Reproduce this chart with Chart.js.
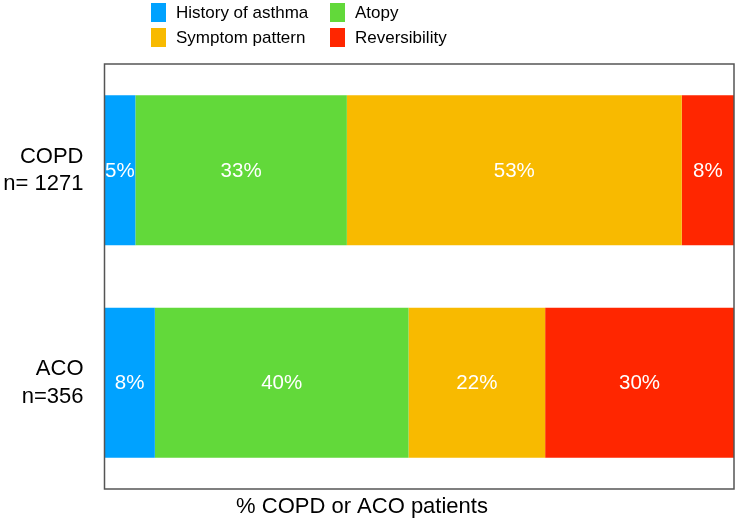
<!DOCTYPE html>
<html>
<head>
<meta charset="utf-8">
<script src="https://cdn.jsdelivr.net/npm/chart.js@4"></script>
<style>
  body { margin: 0; background: #fff; }
  #wrap { width: 735px; height: 524px; }
</style>
</head>
<body>
<div id="wrap"><canvas id="grafico"></canvas></div>
<script>
const categorias = [["COPD", "n= 1271"], ["ACO", "n=356"]];
const series = ["History of asthma", "Atopy", "Symptom pattern", "Reversibility"];
const cores = ["#00A2FF", "#62D93A", "#F8BA00", "#FF2600"];

// percent values
const historico = [4.9, 8.0];
const atopia = [33.6, 40.3];
const sintomas = [53.2, 21.7];
const reversibilidade = [8.3, 30.0];

// labels printed inside the bars
const rotHistorico = ["5%", "8%"];
const rotAtopia = ["33%", "40%"];
const rotSintomas = ["53%", "22%"];
const rotReversibilidade = ["8%", "30%"];

const valores = [historico, atopia, sintomas, reversibilidade];
const rotulos = [rotHistorico, rotAtopia, rotSintomas, rotReversibilidade];

const tituloX = "% COPD or ACO patients";

// legend in two columns, plus frame, value labels and axis title
const extras = {
  id: "extras",
  afterDatasetsDraw(chart) {
    const ctx = chart.ctx;
    const area = chart.chartArea;
    ctx.save();

    // frame
    ctx.strokeStyle = "#555";
    ctx.lineWidth = 1.5;
    ctx.strokeRect(area.left, area.top, area.right - area.left, area.bottom - area.top);

    // value labels
    ctx.fillStyle = "#fff";
    ctx.font = "20.5px 'Liberation Sans', Arial, sans-serif";
    ctx.textAlign = "center";
    ctx.textBaseline = "middle";
    chart.data.datasets.forEach((ds, i) => {
      chart.getDatasetMeta(i).data.forEach((bar, j) => {
        const x = (bar.x + bar.base) / 2;
        ctx.fillText(rotulos[i][j], x, bar.y + 1);
      });
    });

    // legend
    const posLegenda = [[151, 3], [330, 3], [151, 28], [330, 28]];
    ctx.font = "17px 'Liberation Sans', Arial, sans-serif";
    ctx.textAlign = "left";
    series.forEach((nome, k) => {
      const [lx, ly] = posLegenda[k];
      ctx.fillStyle = cores[k];
      ctx.fillRect(lx, ly, 15, 19);
      ctx.fillStyle = "#000";
      ctx.fillText(nome, lx + 25, ly + 10);
    });

    // x axis title
    ctx.font = "22px 'Liberation Sans', Arial, sans-serif";
    ctx.textAlign = "center";
    ctx.fillText(tituloX, 362, 507);

    ctx.restore();
  }
};

const graficoEl = document.getElementById("grafico");

const grafico = new Chart(graficoEl, {
  type: "bar",
  data: {
    labels: categorias,
    datasets: series.map((nome, i) => ({
      label: nome,
      data: valores[i],
      backgroundColor: cores[i],
      borderWidth: 0,
      barPercentage: 0.706,
      categoryPercentage: 1
    }))
  },
  options: {
    indexAxis: "y",
    responsive: true,
    maintainAspectRatio: false,
    animation: false,
    layout: { padding: { top: 64, right: 1, bottom: 35, left: 0 } },
    plugins: {
      legend: { display: false },
      tooltip: { enabled: false }
    },
    scales: {
      x: {
        stacked: true,
        min: 0,
        max: 100,
        display: false
      },
      y: {
        stacked: true,
        grid: { display: false, drawTicks: false },
        border: { display: false },
        ticks: {
          color: "#000",
          padding: 21,
          font: { size: 22, family: "'Liberation Sans', Arial, sans-serif", lineHeight: 1.25 }
        },
        afterFit(scale) {
          scale.width = 104.5;
          scale.paddingTop = 0;
          scale.paddingBottom = 0;
        }
      }
    }
  },
  plugins: [extras]
});
</script>
</body>
</html>
